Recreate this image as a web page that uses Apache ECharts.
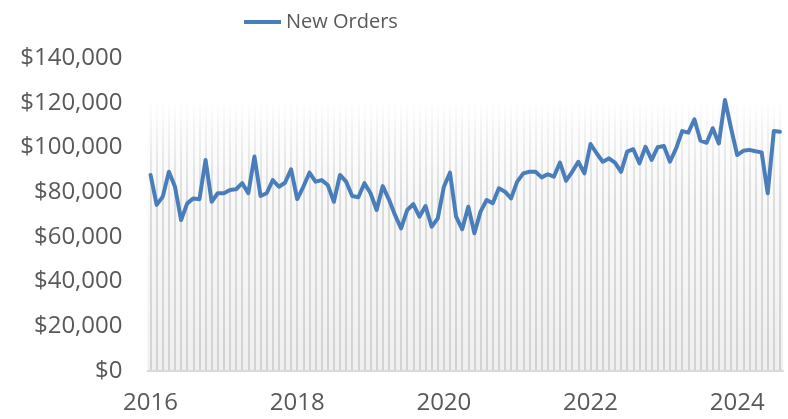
<!DOCTYPE html>
<html>
<head>
    <meta charset="utf-8">
    <script src="https://cdn.jsdelivr.net/npm/echarts@6/dist/echarts.min.js"></script>
</head>
<body style="margin:0">
    <div id="main" style="width: 788px;height:419px;"></div>

<script type="text/javascript">
    // monthly values, Jan 2016 .. Aug 2024
    var startYear = 2016;
    var newOrders = [
        87700, 74300, 78000, 89100, 82400, 67500, 75000, 77200, 76800, 94400, 75700, 79500,
        79500, 81000, 81300, 84000, 79500, 95900, 78300, 79500, 85400, 82400, 84200, 90200,
        76900, 82400, 88700, 84700, 85400, 83200, 75700, 87700, 84700, 78300, 77700, 84000,
        79500, 72000, 82700, 76800, 69800, 63800, 72000, 74600, 69000, 73800, 64500, 68300,
        82400, 88700, 69000, 63400, 73500, 61600, 71300, 76500, 75000, 81700, 80200, 77200,
        84700, 88400, 89100, 89100, 86600, 88000, 86900, 93200, 85100, 89100, 93600, 88400,
        101500, 97400, 93600, 95100, 93200, 89100, 98100, 99200, 92900, 100300, 94400, 100100,
        100600, 93600, 99500, 107300, 106600, 112600, 103000, 102100, 108600, 101800, 121200, 108600,
        96600, 98500, 98900, 98300, 97800, 79500, 107300, 107000
    ];

    var months = [];
    for (var i = 0; i < newOrders.length; i++) {
        var y = startYear + Math.floor(i / 12);
        var m = (i % 12) + 1;
        months.push(y + '-' + (m < 10 ? '0' + m : m));
    }

    var myChart = echarts.init(document.getElementById('main'));

    var textColor = '#595959';
    var fontName = 'Open Sans';

    var option = {
        animation: false,
        backgroundColor: '#ffffff',
        legend: {
            left: 239,
            top: 7,
            icon: 'rect',
            itemWidth: 37,
            itemHeight: 4,
            itemGap: 4,
            data: ['New Orders'],
            textStyle: {
                color: textColor,
                fontFamily: fontName,
                fontSize: 20
            }
        },
        grid: {
            left: 147.5,
            right: 5,
            top: 58,
            bottom: 48,
            show: true,
            borderWidth: 0,
            backgroundColor: new echarts.graphic.LinearGradient(0, 0, 0, 1, [
                { offset: 0, color: '#ffffff' },
                { offset: 0.13, color: '#ffffff' },
                { offset: 1, color: '#efefef' }
            ])
        },
        xAxis: {
            type: 'category',
            data: months,
            boundaryGap: true,
            axisLine: { lineStyle: { color: '#d9d9d9', width: 2 } },
            axisTick: { show: false },
            axisLabel: {
                interval: function (index) { return index % 24 === 0; },
                formatter: function (v) { return v.slice(0, 4); },
                color: textColor,
                fontFamily: fontName,
                fontSize: 24,
                margin: 20
            },
            splitLine: {
                show: true,
                interval: 0,
                alignWithLabel: true,
                lineStyle: {
                    width: 2,
                    color: new echarts.graphic.LinearGradient(0, 0, 0, 1, [
                        { offset: 0, color: 'rgba(215,215,215,0)' },
                        { offset: 0.14, color: 'rgba(215,215,215,0)' },
                        { offset: 0.45, color: 'rgba(215,215,215,0.85)' },
                        { offset: 1, color: 'rgba(210,210,210,1)' }
                    ])
                }
            }
        },
        yAxis: {
            type: 'value',
            min: 0,
            max: 140000,
            interval: 20000,
            axisLine: { show: false },
            axisTick: { show: false },
            splitLine: { show: false },
            axisLabel: {
                color: textColor,
                fontFamily: fontName,
                fontSize: 24,
                margin: 25,
                formatter: function (v) {
                    return '$' + v.toString().replace(/\B(?=(\d{3})+(?!\d))/g, ',');
                }
            }
        },
        series: [
            {
                name: 'New Orders',
                type: 'line',
                data: newOrders,
                showSymbol: false,
                symbol: 'none',
                lineStyle: { color: '#4a7ebb', width: 4, join: 'round', cap: 'round' },
                itemStyle: { color: '#4a7ebb' }
            }
        ]
    };

    myChart.setOption(option);
</script>
</body>
</html>
